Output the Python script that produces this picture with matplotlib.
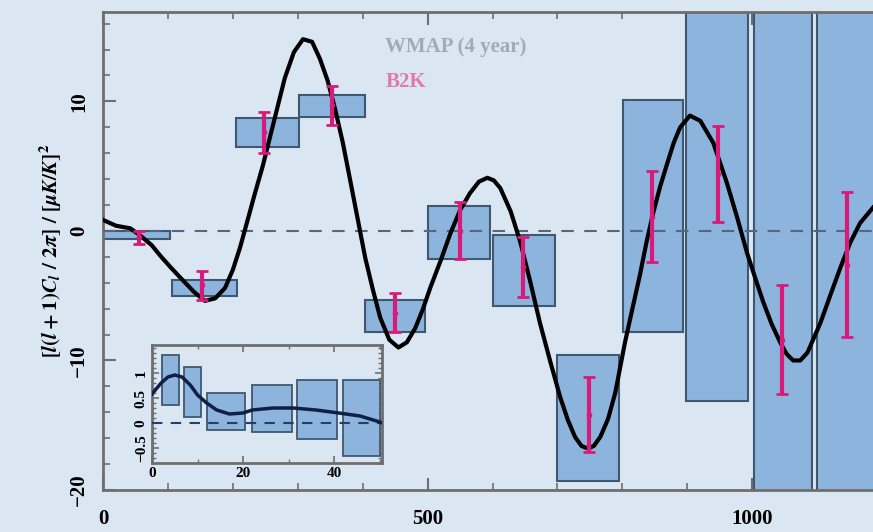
import matplotlib.pyplot as plt
import numpy as np

# WMAP boxes: (l_lo, l_hi, y_lo, y_hi)
wmap_llo = [0, 106, 205, 302, 404, 500, 601, 700, 801, 898, 1002, 1100]
wmap_lhi = [103, 206, 302, 404, 496, 596, 696, 795, 894, 994, 1092, 1200]
wmap_ylo = [-0.6, -5.0, 6.5, 8.8, -7.8, -2.2, -5.8, -19.3, -7.8, -13.1, -40, -40]
wmap_yhi = [0.0, -3.8, 8.7, 10.5, -5.3, 1.9, -0.3, -9.6, 10.1, 40, 40, 40]

# B2K points
b2k_l = [56, 152, 248, 353, 450, 550, 647, 749, 846, 948, 1046, 1146]
b2k_y = [-0.5, -4.2, 7.6, 9.7, -6.3, 0.0, -2.8, -14.2, 1.1, 4.4, -8.4, -2.6]
b2k_err = [0.5, 1.1, 1.6, 1.5, 1.5, 2.2, 2.3, 2.9, 3.5, 3.7, 4.2, 5.6]

# model curve
model_l = [0, 20, 42, 56, 75, 88, 104, 119, 140, 157, 173, 188, 200, 211, 222,
           234, 246, 257, 269, 280, 294, 308, 322, 334, 346, 357, 369, 380, 392,
           404, 416, 427, 441, 455, 468, 481, 493, 504, 520, 535, 550, 565, 579,
           592, 602, 612, 628, 643, 658, 673, 689, 704, 716, 727, 737, 747, 756,
           766, 778, 789, 804, 815, 827, 837, 847, 858, 869, 879, 889, 904, 920,
           940, 961, 977, 992, 1005, 1017, 1030, 1043, 1053, 1063, 1074, 1085,
           1105, 1120, 1136, 1151, 1166, 1186]
model_y = [0.85, 0.4, 0.2, -0.3, -1.1, -1.9, -2.8, -3.6, -4.7, -5.4, -5.2, -4.4,
           -3.0, -1.3, 0.7, 2.9, 5.0, 7.2, 9.6, 11.8, 13.8, 14.8, 14.6, 13.3,
           11.6, 9.5, 6.9, 4.1, 1.0, -2.1, -4.6, -6.7, -8.4, -9.0, -8.6, -7.5,
           -6.0, -4.4, -2.3, -0.2, 1.6, 2.9, 3.8, 4.1, 3.9, 3.3, 1.5, -0.9, -3.9,
           -7.1, -10.1, -12.8, -14.6, -15.9, -16.6, -16.8, -16.6, -15.9, -14.5,
           -12.5, -8.6, -6.1, -3.4, -0.9, 1.3, 3.4, 5.2, 6.8, 8.0, 8.9, 8.5, 6.8,
           3.7, 1.0, -1.7, -3.7, -5.5, -7.2, -8.6, -9.5, -10.0, -10.0, -9.4,
           -7.1, -5.0, -2.8, -0.9, 0.6, 1.8]

# inset (low l) WMAP boxes and model
in_llo = [2.2, 7.0, 12.1, 22.0, 31.9, 42.0]
in_lhi = [5.9, 10.8, 20.4, 30.8, 40.7, 50.1]
in_ylo = [0.36, 0.12, -0.14, -0.18, -0.32, -0.66]
in_yhi = [1.36, 1.12, 0.6, 0.76, 0.86, 0.86]
in_model_l = [0, 2, 3.5, 5, 6.6, 8.4, 10, 12, 14.2, 17, 20, 22, 26.6, 31, 36, 41, 45.7, 50, 51]
in_model_y = [0.58, 0.8, 0.92, 0.96, 0.92, 0.76, 0.56, 0.40, 0.26, 0.18, 0.2, 0.26,
              0.3, 0.3, 0.26, 0.2, 0.14, 0.02, -0.02]

bg = '#dae7f3'
box_face = '#8cb4dd'
box_edge = '#3f5870'
pink = '#d81b7a'
spine_c = '#6e6e6e'

plt.rcParams['font.family'] = 'serif'
plt.rcParams['font.serif'] = ['Liberation Serif', 'DejaVu Serif']
plt.rcParams['font.weight'] = 'bold'
plt.rcParams['mathtext.fontset'] = 'stix'

fig = plt.figure(figsize=(8.73, 5.32), dpi=100, facecolor=bg)
ax = fig.add_axes([103 / 873, 42 / 532, 1 - 103 / 873, 478 / 532])
ax.set_facecolor(bg)

ax.bar(wmap_llo, np.array(wmap_yhi) - np.array(wmap_ylo), bottom=wmap_ylo,
       width=np.array(wmap_lhi) - np.array(wmap_llo), align='edge',
       color=box_face, edgecolor=box_edge, linewidth=1.5, zorder=2)
ax.axhline(0, color='#56667c', linestyle=(0, (6, 5)), linewidth=1.5, zorder=3)
ax.plot(model_l, model_y, color='black', linewidth=3, zorder=4)
ax.errorbar(b2k_l, b2k_y, yerr=b2k_err, fmt='o', ms=3, color=pink, ecolor=pink,
            elinewidth=3, capsize=4, capthick=2, zorder=5)

ax.set_xlim(0, 1186)
ax.set_ylim(-20, 16.9)
ax.set_xticks([0, 500, 1000])
ax.set_xticks(np.arange(0, 1200, 100), minor=True)
ax.set_yticks([-20, -10, 0, 10])
ax.set_yticklabels(['\u221220', '\u221210', '0', '10'], rotation=90, va='center')
ax.set_yticks(np.arange(-20, 17, 2), minor=True)
ax.tick_params(which='both', direction='in', top=True, right=False, color=spine_c,
               labelsize=15)
ax.tick_params(axis='x', pad=14)
ax.tick_params(axis='y', pad=10)
ax.tick_params(which='major', length=9, width=1.5)
ax.tick_params(which='minor', length=5, width=1.2)
for s in ['left', 'bottom', 'top']:
    ax.spines[s].set_color(spine_c)
    ax.spines[s].set_linewidth(2)
ax.spines['right'].set_visible(False)
ax.set_ylabel(r'$[l(l+1)C_l\ /\ 2\pi]\ /\ [\mu K/K]^2$', fontsize=15, labelpad=4)

ax.text(435, 14.2, 'WMAP (4 year)', color='#a3aab2', fontsize=15, va='center')
ax.text(435, 11.5, 'B2K', color='#e07aae', fontsize=15, va='center')

# inset
axi = fig.add_axes([152 / 873, 69 / 532, 230 / 873, 118 / 532])
axi.set_facecolor(bg)
axi.bar(in_llo, np.array(in_yhi) - np.array(in_ylo), bottom=in_ylo,
        width=np.array(in_lhi) - np.array(in_llo), align='edge',
        color=box_face, edgecolor=box_edge, linewidth=1.3, zorder=2)
axi.axhline(0, color='#24406a', linestyle=(0, (5, 4)), linewidth=1.5, zorder=3)
axi.plot(in_model_l, in_model_y, color='#0f1f45', linewidth=2.5, zorder=4)
axi.set_xlim(0, 50.5)
axi.set_ylim(-0.8, 1.56)
axi.set_xticks([0, 20, 40])
axi.set_xticks(np.arange(0, 51, 10), minor=True)
axi.set_yticks([-0.5, 0, 0.5, 1])
axi.set_yticklabels(['\u22120.5', '0', '0.5', '1'], rotation=90, va='center')
axi.set_yticks(np.arange(-0.8, 1.56, 0.1), minor=True)
axi.tick_params(which='both', direction='in', top=True, right=True, color=spine_c,
                labelsize=11, pad=3)
axi.tick_params(which='major', length=5, width=1.2)
axi.tick_params(which='minor', length=3, width=1)
for s in axi.spines.values():
    s.set_color(spine_c)
    s.set_linewidth(2)

fig.savefig('out.png', dpi=100, facecolor=bg)
